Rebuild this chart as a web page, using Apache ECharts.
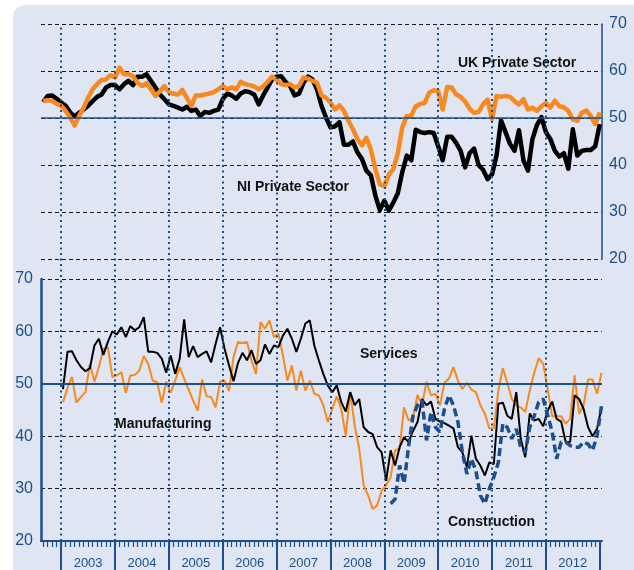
<!DOCTYPE html>
<html>
<head>
<meta charset="utf-8">
<script src="https://cdn.jsdelivr.net/npm/echarts@6/dist/echarts.min.js"></script>
<style>
  html, body { margin: 0; padding: 0; background: #ffffff; }
  #chart { width: 634px; height: 570px; }
</style>
</head>
<body>
<div id="chart"></div>
<script>
// year bands on the x axis (x is counted in months, 0 = Jan 2003)
var years = [2003, 2004, 2005, 2006, 2007, 2008, 2009, 2010, 2011, 2012];

// top panel, monthly, first value Sep 2002
var niPrivate = [53.4,54.7,54.8,54.1,
  53.3,52.6,51.2,50.3,51.1,51.8,52.6,53.6,54.5,55.0,56.5,57.0,
  57.0,56.1,57.2,57.9,57.0,58.8,58.8,59.3,57.9,56.5,55.0,54.0,
  52.9,52.6,52.2,51.8,52.4,51.5,51.8,50.4,51.3,51.1,51.5,51.8,
  54.0,55.2,54.8,54.1,55.2,55.7,55.5,55.0,52.9,54.8,56.5,58.2,
  58.8,58.9,57.7,56.8,54.8,55.2,57.5,58.8,58.2,56.1,52.6,50.1,
  48.0,48.2,49.1,44.3,44.3,45.0,42.7,41.3,38.8,37.8,33.5,30.4,
  32.4,30.3,32.0,34.0,38.5,42.0,41.0,47.5,47.0,46.8,47.0,46.8,
  44.0,41.0,46.0,46.0,44.7,43.0,39.5,42.5,43.5,40.0,39.0,37.0,
  38.0,42.0,49.5,47.0,44.5,43.0,47.4,41.0,38.8,45.5,48.5,50.2,
  47.0,45.5,43.0,41.8,42.5,39.2,47.6,42.0,43.0,43.2,43.2,44.0,
  48.7];
var ukPrivate = [53.6,53.8,53.6,53.0,
  52.6,51.5,50.1,48.4,50.4,52.2,54.3,56.1,57.2,58.1,58.2,59.1,
  58.6,60.7,59.3,59.3,58.9,57.5,56.8,57.4,56.1,54.7,55.7,56.8,
  55.5,55.2,55.0,56.0,54.3,52.6,54.8,54.8,55.0,55.2,55.5,56.1,
  56.8,56.1,56.5,56.1,57.7,57.2,57.0,56.7,56.1,56.7,57.7,58.8,
  58.1,57.2,57.0,57.2,56.5,56.8,58.6,58.4,57.9,57.5,54.8,54.3,
  53.3,51.8,52.7,51.5,49.4,47.6,45.5,44.2,45.8,43.3,39.1,35.9,
  35.5,38.0,39.1,42.5,48.0,50.4,50.5,52.5,53.0,53.2,55.4,55.9,
  55.7,51.8,56.6,56.5,55.0,54.5,53.5,52.0,51.1,51.3,52.9,53.9,
  49.7,54.7,54.5,54.7,54.5,53.6,52.9,54.0,51.8,52.2,51.5,52.5,
  53.2,52.2,53.7,52.5,52.3,51.5,49.7,49.4,51.1,51.6,50.4,48.7,
  51.2];

// bottom panel, monthly, first value Jan 2003
var services = [49.0,56.1,56.2,54.5,53.2,52.4,53.0,57.3,58.6,55.5,58.0,60.0,
  59.4,60.8,58.9,61.0,60.2,60.8,62.7,56.1,56.1,55.9,54.8,52.1,
  55.4,51.9,54.8,62.3,55.1,57.2,55.1,55.7,56.2,54.1,57.6,60.8,
  56.7,53.5,50.5,54.0,55.9,54.5,56.4,53.8,54.5,57.5,55.7,57.3,
  57.0,59.2,60.5,58.6,56.1,58.6,61.5,62.1,57.3,54.5,51.9,49.7,
  48.4,49.7,46.5,44.7,48.4,45.9,47.1,41.7,40.8,40.4,37.9,36.9,
  31.5,37.3,34.4,37.9,39.8,38.9,41.0,42.7,47.1,45.9,46.6,43.3,
  42.8,42.5,42.0,41.5,37.9,36.9,34.1,40.1,35.7,34.4,32.5,35.0,
  34.7,46.2,46.4,43.9,43.3,48.4,39.5,36.0,44.3,43.0,43.3,41.9,
  44.9,46.6,43.3,42.8,38.9,38.9,47.8,47.1,45.2,41.7,40.0,41.4,
  45.5];
var manufacturing = [46.5,49.2,51.3,46.4,47.5,48.4,53.8,50.4,53.2,56.7,57.0,51.3,
  51.6,52.2,48.3,51.6,51.7,52.5,55.3,53.8,50.6,50.3,46.4,50.4,
  48.3,50.6,53.2,51.0,48.9,46.8,44.9,50.8,47.6,47.5,45.5,50.4,
  50.6,48.6,55.1,58.0,57.8,58.0,54.5,51.9,61.8,60.5,62.1,58.9,
  59.6,55.4,50.6,53.5,48.7,52.5,48.7,50.6,48.1,47.8,45.9,42.7,
  45.2,47.6,45.2,40.1,48.4,42.0,37.6,30.6,28.7,26.1,26.8,29.6,
  30.6,32.2,37.3,37.6,45.5,43.0,43.6,47.9,45.9,50.4,47.8,48.1,
  45.9,50.2,51.0,53.2,50.6,49.0,50.2,48.9,48.4,45.9,44.3,41.5,
  41.5,48.7,53.0,50.2,47.1,45.9,45.5,44.6,48.7,52.1,54.9,53.8,
  49.0,43.8,43.8,43.8,42.4,43.3,51.6,44.3,45.9,50.8,50.8,48.1,
  52.1];
// construction starts Feb 2009
var construction = [27.1,28.0,34.4,31.0,38.0,43.9,45.9,46.8,39.2,44.6,41.7,
  40.8,45.2,47.8,45.9,42.7,36.9,32.8,35.7,33.4,28.7,27.1,30.0,
  32.2,35.0,42.4,41.7,39.5,41.4,37.9,36.9,41.7,43.9,46.5,47.1,
  44.0,40.8,35.7,38.9,38.9,38.2,37.9,37.9,38.9,38.5,37.3,40.1,
  45.9];

var XMIN = -4.5, XMAX = 120.5;
var NAVY = '#1b4f8e', ORANGE = '#f7891f', FONT = 'Liberation Sans, Arial, sans-serif';

function toPairs(arr, start){
  return arr.map(function(v, i){ return [start + i, v]; });
}
var monthTicks = [];
for (var k = Math.ceil(XMIN); k <= XMAX; k++) monthTicks.push(k);
var yearEdges = years.map(function(y, i){ return i * 12; }).concat([years.length * 12]);
var yearMids = years.map(function(y, i){ return i * 12 + 6; });

var dashed = { color: '#1a1a1a', width: 1.2, type: [4, 3] };

function hiddenAxis(grid){
  return { type: 'value', gridIndex: grid, min: XMIN, max: XMAX, show: false };
}

var option = {
  animation: false,
  graphic: [
    { type: 'rect', left: 13, top: 5, z: -10, silent: true,
      shape: { width: 640, height: 600, r: 12 }, style: { fill: '#dfe5f3' } },
    { type: 'text', left: 458, top: 56, style: { text: 'UK Private Sector', font: 'bold 14px ' + FONT, fill: '#111' } },
    { type: 'text', left: 237, top: 180, style: { text: 'NI Private Sector', font: 'bold 14px ' + FONT, fill: '#111' } },
    { type: 'text', left: 360, top: 347, style: { text: 'Services', font: 'bold 14px ' + FONT, fill: '#111' } },
    { type: 'text', left: 115, top: 417, style: { text: 'Manufacturing', font: 'bold 14px ' + FONT, fill: '#111' } },
    { type: 'text', left: 448, top: 515, style: { text: 'Construction', font: 'bold 14px ' + FONT, fill: '#111' } }
  ],
  grid: [
    { left: 41, right: 32, top: 24, height: 235 },
    { left: 41, right: 32, top: 279, height: 262 },
    { left: 41, right: 32, top: 24, height: 517 }
  ],
  xAxis: [
    hiddenAxis(0),
    // axis line, monthly ticks and year labels centred in each band
    { type: 'value', gridIndex: 1, min: XMIN, max: XMAX, position: 'bottom', offset: 0,
      axisLine: { show: true, onZero: false, lineStyle: { color: NAVY, width: 2 } },
      axisTick: { show: true, customValues: monthTicks, length: 6, lineStyle: { color: NAVY, width: 1.2 } },
      axisLabel: { show: true, customValues: yearMids,
        formatter: function(v){ return String(years[0] + Math.floor(v / 12)); },
        color: NAVY, fontSize: 13, fontFamily: FONT, margin: 16 },
      splitLine: { show: false } },
    hiddenAxis(2),
    // long separators between years
    { type: 'value', gridIndex: 1, min: XMIN, max: XMAX, position: 'bottom', offset: 0,
      axisLine: { show: false, onZero: false },
      axisTick: { show: true, customValues: yearEdges, length: 30, lineStyle: { color: NAVY, width: 2 } },
      axisLabel: { show: false },
      splitLine: { show: false } }
  ],
  yAxis: [
    { type: 'value', gridIndex: 0, position: 'right', min: 20, max: 70, interval: 10,
      axisLine: { show: true, onZero: false, lineStyle: { color: NAVY, width: 1.5 } },
      axisTick: { show: false },
      axisLabel: { color: NAVY, fontSize: 16, fontFamily: FONT, margin: 7 },
      splitLine: { show: true, lineStyle: dashed } },
    { type: 'value', gridIndex: 1, position: 'left', min: 20, max: 70, interval: 10,
      axisLine: { show: true, onZero: false, lineStyle: { color: NAVY, width: 2.5 } },
      axisTick: { show: false },
      axisLabel: { color: NAVY, fontSize: 16, fontFamily: FONT, margin: 8 },
      splitLine: { show: true, lineStyle: dashed } },
    { type: 'value', gridIndex: 2, min: 0, max: 1, show: false }
  ],
  series: [
    { type: 'line', xAxisIndex: 2, yAxisIndex: 2, data: [], z: 1, silent: true,
      markLine: { silent: true, symbol: ['none', 'none'], label: { show: false },
        lineStyle: { color: NAVY, width: 2, type: [2, 3.5] },
        data: yearEdges.slice(0, years.length).map(function(v){ return { xAxis: v }; }) } },
    { type: 'line', xAxisIndex: 0, yAxisIndex: 0, data: [], z: 1, silent: true,
      markLine: { silent: true, symbol: ['none', 'none'], label: { show: false },
        lineStyle: { color: NAVY, width: 1.5, type: 'solid' }, data: [{ yAxis: 50 }] } },
    { type: 'line', xAxisIndex: 1, yAxisIndex: 1, data: [], z: 1, silent: true,
      markLine: { silent: true, symbol: ['none', 'none'], label: { show: false },
        lineStyle: { color: NAVY, width: 2, type: 'solid' }, data: [{ yAxis: 50 }] } },
    { name: 'NI Private Sector', type: 'line', xAxisIndex: 0, yAxisIndex: 0,
      data: toPairs(niPrivate, -4), showSymbol: false,
      lineStyle: { color: '#000', width: 4.5, join: 'round' } },
    { name: 'UK Private Sector', type: 'line', xAxisIndex: 0, yAxisIndex: 0,
      data: toPairs(ukPrivate, -4), showSymbol: false,
      lineStyle: { color: ORANGE, width: 4.5, join: 'round' } },
    { name: 'Manufacturing', type: 'line', xAxisIndex: 1, yAxisIndex: 1,
      data: toPairs(manufacturing, 0.4), showSymbol: false,
      lineStyle: { color: ORANGE, width: 2 } },
    { name: 'Services', type: 'line', xAxisIndex: 1, yAxisIndex: 1,
      data: toPairs(services, 0.4), showSymbol: false,
      lineStyle: { color: '#000', width: 2 } },
    { name: 'Construction', type: 'line', xAxisIndex: 1, yAxisIndex: 1,
      data: toPairs(construction, 73.4), showSymbol: false,
      lineStyle: { color: NAVY, width: 3.5, type: [8, 4] } }
  ]
};

var chart = echarts.init(document.getElementById('chart'));
chart.setOption(option);
window.addEventListener('resize', function(){ chart.resize(); });
</script>
</body>
</html>
